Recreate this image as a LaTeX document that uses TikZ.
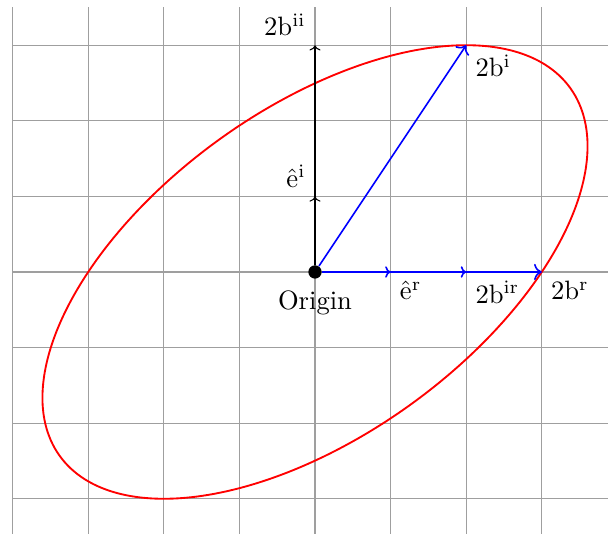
\documentclass[tikz,border=0pt]{standalone}
\usepackage{amsmath}
\usepackage{tikz}
\usetikzlibrary{positioning, arrows.meta}

\begin{document}
\begin{tikzpicture}[
    every node/.style={font=\normalsize},
    % light grid behind the figure
    gridline/.style={draw=gray!75, line width=0.4pt},
    % black unit vector along the imaginary axis
    basis/.style={-{To[scale=0.8]}, black, line width=0.4pt},
    % blue vectors
    vec/.style={-{To[scale=0.7]}, blue, line width=0.6pt},
    % the red ellipse
    conic/.style={red, line width=0.7pt},
    dot/.style={circle, fill=black, inner sep=0pt, minimum size=5pt}
]

\useasboundingbox (-4.167,-3.466) rectangle (3.876,3.598);
\draw[gridline] (-4,-3.5) grid (4,3.5);

\node[dot] (O) at (0,0) {};
\coordinate (ei)  at (0,1);
\coordinate (bii) at (0,3);
\coordinate (er)  at (1,0);
\coordinate (bir) at (2,0);
\coordinate (br)  at (3,0);
\coordinate (bi)  at (2,3);

\draw[conic] plot[domain=0:357, samples=120, smooth cycle]
    ({3*cos(\x)+2*sin(\x)},{3*sin(\x)});

\draw[basis] (O) -- (ei);
\draw[basis] (O) -- (bii);
\draw[vec] (O) -- (er);
\draw[vec] (O) -- (bir);
\draw[vec, -{To}] (O) -- (br);
\draw[vec, -{To}] (O) -- (bi);

\node[below=1pt of O] (origin) {Origin};
\node[above left] (tei)  at (ei)  {$\hat{\mathrm{e}}^{\mathrm{i}}$};
\node[above left] (tbii) at (bii) {$2\mathrm{b}^{\mathrm{ii}}$};
\node[below right] (ter)  at (er)  {$\hat{\mathrm{e}}^{\mathrm{r}}$};
\node[below right] (tbir) at (bir) {$2\mathrm{b}^{\mathrm{ir}}$};
\node[below right] (tbr)  at (br)  {$2\mathrm{b}^{\mathrm{r}}$};
\node[below right] (tbi)  at (bi)  {$2\mathrm{b}^{\mathrm{i}}$};

\end{tikzpicture}
\end{document}
